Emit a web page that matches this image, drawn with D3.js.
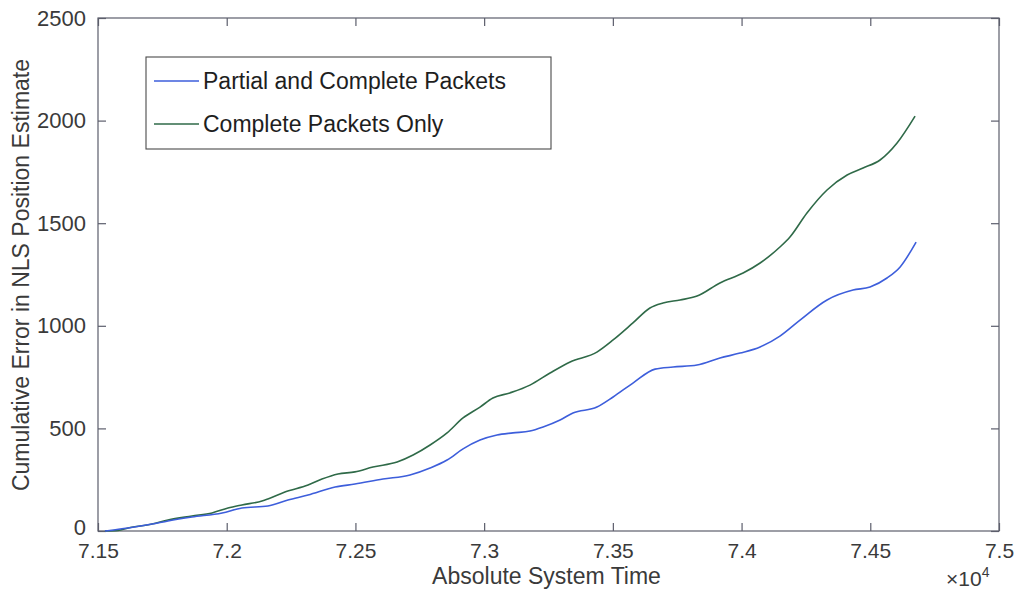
<!DOCTYPE html>
<html>
<head>
<meta charset="utf-8">
<script src="https://cdn.jsdelivr.net/npm/d3@7"></script>
<style>
  html, body { margin: 0; padding: 0; background: #fff; }
  svg { display: block; font-family: "Liberation Sans", Arial, Helvetica, sans-serif; }
</style>
</head>
<body>
<svg id="chart" width="1021" height="591"></svg>
<script>
// Absolute system time (s) and cumulative NLS position error
const timePartial = [71527, 71617, 71710, 71772, 71865, 71982, 72059, 72160, 72238, 72316, 72421, 72498, 72607, 72712, 72790, 72856, 72918, 72984, 73050, 73112, 73178, 73229, 73295, 73345, 73438, 73501, 73578, 73664, 73734, 73827, 73916, 73994, 74072, 74149, 74227, 74332, 74433, 74499, 74565, 74616, 74678];
const errPartial  = [0, 15, 34, 49, 68, 88, 112, 122, 151, 175, 214, 229, 253, 273, 307, 346, 400, 443, 468, 478, 487, 507, 541, 575, 604, 653, 721, 789, 799, 809, 843, 867, 897, 950, 1028, 1126, 1174, 1189, 1233, 1287, 1408];

const timeComplete = [71527, 71578, 71617, 71710, 71772, 71865, 71943, 72005, 72059, 72137, 72160, 72226, 72316, 72370, 72432, 72498, 72568, 72662, 72724, 72790, 72856, 72918, 72984, 73034, 73100, 73178, 73256, 73334, 73438, 73501, 73578, 73644, 73695, 73761, 73827, 73916, 74006, 74072, 74149, 74188, 74254, 74332, 74410, 74472, 74538, 74604, 74674];
const errComplete  = [0, 3, 15, 34, 54, 73, 88, 112, 127, 146, 156, 190, 224, 253, 278, 288, 312, 336, 370, 419, 478, 551, 604, 648, 673, 711, 770, 824, 872, 931, 1014, 1087, 1111, 1126, 1145, 1209, 1257, 1306, 1384, 1433, 1550, 1662, 1735, 1769, 1808, 1891, 2022];

const xTicks = [71500, 72000, 72500, 73000, 73500, 74000, 74500, 75000];
const xTickLabels = ["7.15", "7.2", "7.25", "7.3", "7.35", "7.4", "7.45", "7.5"];
const yTicks = [0, 500, 1000, 1500, 2000, 2500];

const seriesNames = ["Partial and Complete Packets", "Complete Packets Only"];
const seriesColors = ["#3d5edb", "#2f6a48"];

const svg = d3.select("#chart");
const plotL = 98, plotR = 999, plotT = 18, plotB = 531;
const axisColor = "#5c5e6c";
const textColor = "#3a3a3a";

const x = d3.scaleLinear().domain([71500, 75000]).range([plotL, plotR]);
const y = d3.scaleLinear().domain([0, 2500]).range([plotB, plotT]);

// frame
svg.append("rect")
  .attr("x", plotL).attr("y", plotT)
  .attr("width", plotR - plotL).attr("height", plotB - plotT)
  .attr("fill", "none").attr("stroke", axisColor).attr("stroke-width", 1.2);

const tickLen = 8;

// bottom axis
const xAxis = d3.axisBottom(x).tickValues(xTicks)
  .tickFormat((d, i) => xTickLabels[i]).tickSizeInner(-tickLen).tickSizeOuter(0).tickPadding(12);
const gx = svg.append("g").attr("transform", `translate(0,${plotB})`).call(xAxis);
gx.select(".domain").remove();
gx.selectAll(".tick line").attr("stroke", axisColor).attr("stroke-width", 1.2);
gx.selectAll(".tick text").attr("fill", textColor).style("font-size", "21px")
  .attr("font-family", "Liberation Sans, Arial, sans-serif");

// top mirror ticks
const gxt = svg.append("g").attr("transform", `translate(0,${plotT})`)
  .call(d3.axisTop(x).tickValues(xTicks).tickFormat("").tickSizeInner(-tickLen).tickSizeOuter(0));
gxt.select(".domain").remove();
gxt.selectAll(".tick line").attr("stroke", axisColor).attr("stroke-width", 1.2);

// left axis
const yAxis = d3.axisLeft(y).tickValues(yTicks).tickFormat(d3.format("d"))
  .tickSizeInner(-tickLen).tickSizeOuter(0).tickPadding(12);
const gy = svg.append("g").attr("transform", `translate(${plotL},0)`).call(yAxis);
gy.select(".domain").remove();
gy.selectAll(".tick line").attr("stroke", axisColor).attr("stroke-width", 1.2);
gy.selectAll(".tick text").attr("fill", textColor).style("font-size", "22px")
  .attr("font-family", "Liberation Sans, Arial, sans-serif");
// lift the zero label slightly so it clears the first time label
gy.selectAll(".tick text").filter(d => d === 0).attr("y", -4);

// right mirror ticks
const gyr = svg.append("g").attr("transform", `translate(${plotR},0)`)
  .call(d3.axisRight(y).tickValues(yTicks).tickFormat("").tickSizeInner(-tickLen).tickSizeOuter(0));
gyr.select(".domain").remove();
gyr.selectAll(".tick line").attr("stroke", axisColor).attr("stroke-width", 1.2);

// exponent label
const expo = svg.append("text").attr("x", 946).attr("y", 586)
  .attr("fill", textColor).style("font-size", "21px");
expo.append("tspan").text("\u00d710");
expo.append("tspan").attr("dy", -9).style("font-size", "14px").text("4");

// axis titles
svg.append("text")
  .attr("x", (plotL + plotR) / 2 - 2).attr("y", 584)
  .attr("text-anchor", "middle").attr("fill", textColor)
  .style("font-size", "23px").text("Absolute System Time");

svg.append("text")
  .attr("transform", `translate(29,275) rotate(-90)`)
  .attr("text-anchor", "middle").attr("fill", textColor)
  .style("font-size", "23px").text("Cumulative Error in NLS Position Estimate");

// series
const line = d3.line().x(d => x(d[0])).y(d => y(d[1])).curve(d3.curveMonotoneX);
const series = [
  d3.zip(timePartial, errPartial),
  d3.zip(timeComplete, errComplete)
];
// draw complete-only first so partial sits on top at the shared start
[1, 0].forEach(i => {
  svg.append("path").datum(series[i])
    .attr("d", line)
    .attr("fill", "none")
    .attr("stroke", seriesColors[i])
    .attr("stroke-width", 1.6)
    .attr("stroke-linejoin", "round");
});

// legend
const lg = svg.append("g");
lg.append("rect").attr("x", 146).attr("y", 57).attr("width", 405).attr("height", 92)
  .attr("fill", "#fff").attr("stroke", "#4a4a4a").attr("stroke-width", 1.1);
seriesNames.forEach((name, i) => {
  const cy = 81 + i * 43;
  lg.append("line").attr("x1", 154).attr("x2", 199).attr("y1", cy).attr("y2", cy)
    .attr("stroke", seriesColors[i]).attr("stroke-width", 1.6);
  lg.append("text").attr("x", 203).attr("y", cy + 8)
    .attr("fill", "#1e1e1e").style("font-size", "23px").text(name);
});
</script>
</body>
</html>
